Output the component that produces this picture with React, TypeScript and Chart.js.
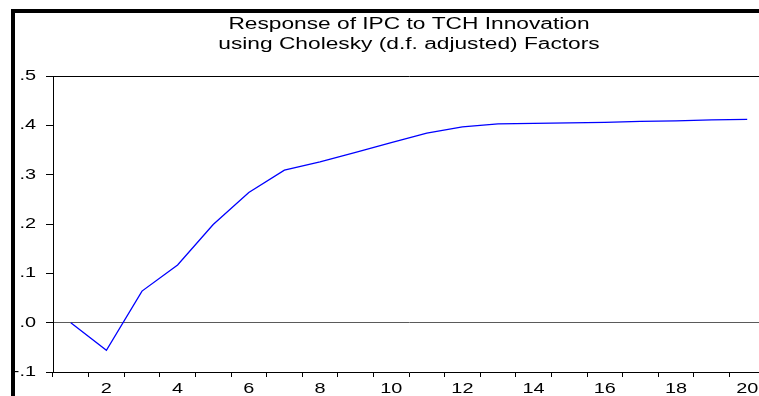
import React, { useEffect, useRef } from "react";
import { Chart, registerables } from "chart.js";

Chart.register(...registerables);

const periods: string[] = Array.from({ length: 20 }, (_, i) => String(i + 1));
const response: number[] = [
  0.0, -0.056, 0.064, 0.117, 0.199, 0.264, 0.309, 0.326, 0.345, 0.365,
  0.384, 0.397, 0.403, 0.404, 0.405, 0.406, 0.408, 0.409, 0.411, 0.412,
];
const titleLines: string[] = [
  "Response of IPC to TCH Innovation",
  "using Cholesky (d.f. adjusted) Factors",
];
const yMin = -0.1;
const yMax = 0.5;
const yStep = 0.1;

const CANVAS_W = 800;
const CANVAS_H = 396;
const FONT = "'Liberation Sans', Arial, sans-serif";
const STRETCH = 1.42;

const fmtY = (v: number) => {
  const r = Math.round(v * 10) / 10;
  const s = (r === 0 ? 0 : r).toFixed(1);
  return s.replace("0.", ".");
};

function stretchedText(ctx: any, text: string, x: number, y: number, align: string) {
  ctx.save();
  ctx.translate(x, y);
  ctx.scale(STRETCH, 1);
  ctx.textAlign = align;
  ctx.fillText(text, 0, 0);
  ctx.restore();
}

const framePlugin = {
  id: "frame",
  beforeDraw(chart: any) {
    const ctx = chart.ctx;
    ctx.save();
    ctx.fillStyle = "#ffffff";
    ctx.fillRect(0, 0, chart.width, chart.height);
    ctx.fillStyle = "#000000";
    ctx.fillRect(11, 9, 4, chart.height);
    ctx.fillRect(11, 9, chart.width, 4);
    ctx.restore();
  },
  afterDraw(chart: any) {
    const ctx = chart.ctx;
    const area = chart.chartArea;
    ctx.save();
    ctx.fillStyle = "#000000";
    ctx.textBaseline = "alphabetic";
    // title
    ctx.font = `16px ${FONT}`;
    const cx = (area.left + area.right) / 2;
    titleLines.forEach((t, i) => stretchedText(ctx, t, cx, 29 + i * 20, "center"));
    // y tick labels
    ctx.font = `14px ${FONT}`;
    const ys = chart.scales.y;
    ys.ticks.forEach((tk: any) => {
      const y = ys.getPixelForValue(tk.value);
      stretchedText(ctx, fmtY(tk.value), 36, y + 4, "right");
    });
    // x tick labels
    const xs = chart.scales.x;
    periods.forEach((p, i) => {
      if ((i + 1) % 2 !== 0) return;
      const x = xs.getPixelForValue(i);
      stretchedText(ctx, p, x, 393, "center");
    });
    ctx.restore();
  },
};

export default function App() {
  const ref = useRef<HTMLCanvasElement | null>(null);

  useEffect(() => {
    if (!ref.current) return;
    const chart = new Chart(ref.current, {
      type: "line",
      data: {
        labels: periods,
        datasets: [
          {
            data: response,
            borderColor: "#0000ff",
            borderWidth: 1.3,
            pointRadius: 0,
            tension: 0,
            fill: false,
          },
        ],
      },
      options: {
        responsive: false,
        animation: false,
        devicePixelRatio: 1,
        layout: { padding: { left: 0, right: CANVAS_W - 765, top: 76, bottom: 0 } },
        plugins: {
          legend: { display: false },
          tooltip: { enabled: false },
          title: { display: false },
        },
        scales: {
          x: {
            type: "category",
            offset: true,
            grid: {
              offset: true,
              drawOnChartArea: false,
              drawTicks: true,
              tickLength: 5,
              tickColor: "#000000",
              tickWidth: 1,
            },
            border: { display: true, color: "#000000", width: 1 },
            ticks: { display: false, autoSkip: false },
            afterFit: (s: any) => {
              s.height = CANVAS_H - 372;
            },
          },
          y: {
            min: yMin,
            max: yMax,
            grid: {
              drawOnChartArea: true,
              color: (c: any) => {
                const v = c.tick ? Math.round(c.tick.value * 10) / 10 : NaN;
                if (v === 0) return "#5a5a5a";
                if (v === yMax) return "#000000";
                return "rgba(0,0,0,0)";
              },
              lineWidth: 1,
              tickLength: 7,
              tickColor: "#000000",
            },
            border: { display: true, color: "#000000", width: 1 },
            ticks: { display: false, stepSize: yStep },
            afterFit: (s: any) => {
              s.width = 53;
            },
          },
        },
      },
      plugins: [framePlugin],
    });
    return () => chart.destroy();
  }, []);

  return (
    <div
      style={{
        position: "fixed",
        left: 0,
        top: 0,
        width: 759,
        height: 396,
        overflow: "hidden",
        background: "#fff",
      }}
    >
      <canvas
        ref={ref}
        width={CANVAS_W}
        height={CANVAS_H}
        style={{ width: CANVAS_W, height: CANVAS_H, display: "block" }}
      />
    </div>
  );
}
